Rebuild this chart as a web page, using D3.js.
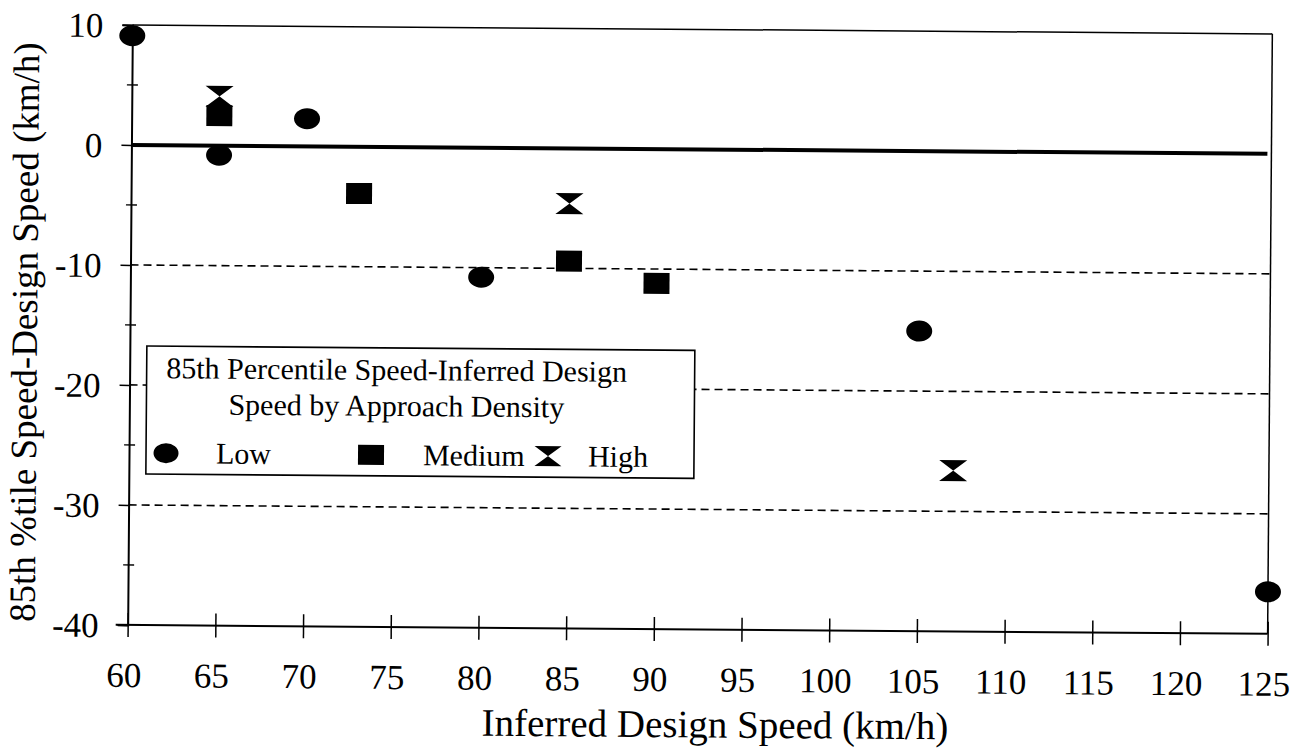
<!DOCTYPE html>
<html>
<head>
<meta charset="utf-8">
<script src="https://cdn.jsdelivr.net/npm/d3@7/dist/d3.min.js"></script>
<style>
html,body{margin:0;padding:0;background:#fff;}
svg{display:block;}
</style>
</head>
<body>
<svg id="chart" width="1304" height="749"></svg>
<script>
// ---- data ----
const xTicks = [60,65,70,75,80,85,90,95,100,105,110,115,120,125];
const yTicks = [10,0,-10,-20,-30,-40];
const yMinorTicks = [5,-5,-15,-25,-35];
const gridValues = [-10,-20,-30];
const lowX = [60,65,70,80,105,125];
const lowY = [9.1,-0.8,2.3,-10.8,-15.0,-36.5];
const medX = [65,73,85,90];
const medY = [2.5,-3.9,-9.4,-11.2];
const highX = [65,85,107];
const highY = [4.1,-4.6,-26.6];
const xTitle = "Inferred Design Speed (km/h)";
const yTitle = "85th %tile Speed-Design Speed (km/h)";
const legendTitle = ["85th Percentile Speed-Inferred Design","Speed by Approach Density"];
const legendLabels = ["Low","Medium","High"];

const FONT = "'Liberation Serif', 'Times New Roman', Times, serif";

// ---- layout ----
const svg = d3.select("#chart");
const root = svg.append("g").attr("transform","rotate(0.45,650,330)")
  .attr("font-family",FONT);
const x = d3.scaleLinear().domain([60,125]).range([130,1270]);
const y = d3.scaleLinear().domain([10,-40]).range([29,629]);
const x0 = x(60), x1 = x(125), yTop = y(10), yBot = y(-40);

// dashed gridlines
root.append("g").selectAll("line").data(gridValues).join("line")
  .attr("x1",x0).attr("x2",x1).attr("y1",d=>y(d)).attr("y2",d=>y(d))
  .attr("stroke","#000").attr("stroke-width",1.6).attr("stroke-dasharray","8,5");

// zero line
root.append("line").attr("x1",x0).attr("x2",x1-4).attr("y1",y(0)).attr("y2",y(0))
  .attr("stroke","#000").attr("stroke-width",4);

// top & right border
root.append("line").attr("x1",x0).attr("x2",x1).attr("y1",yTop).attr("y2",yTop)
  .attr("stroke","#000").attr("stroke-width",1.5);
root.append("line").attr("x1",x1).attr("x2",x1).attr("y1",yTop).attr("y2",yBot)
  .attr("stroke","#000").attr("stroke-width",1.5);

// y axis
const yAxis = d3.axisLeft(y).tickValues(yTicks).tickSize(10).tickPadding(19).tickFormat(d=>String(d));
const gy = root.append("g").attr("transform",`translate(${x0},0)`).call(yAxis);
gy.attr("font-family",FONT);
gy.select(".domain").attr("stroke-width",2);
gy.selectAll(".tick line").attr("stroke-width",1.5);
gy.selectAll(".tick text").style("font-family",FONT).style("font-size","35px").attr("dy","0.34em");
// minor y ticks (crossing)
root.append("g").selectAll("line").data(yMinorTicks).join("line")
  .attr("x1",x0-5).attr("x2",x0+6).attr("y1",d=>y(d)).attr("y2",d=>y(d))
  .attr("stroke","#000").attr("stroke-width",1.4);

// x axis
const xAxis = d3.axisBottom(x).tickValues(xTicks).tickSize(12).tickPadding(28).tickFormat(d=>String(d));
const gx = root.append("g").attr("transform",`translate(0,${yBot})`).call(xAxis);
gx.attr("font-family",FONT);
gx.select(".domain").attr("stroke-width",2).attr("d",`M${x0-12},0H${x1}`);
gx.selectAll(".tick line").attr("y1",-12).attr("stroke-width",1.5);
gx.selectAll(".tick text").style("font-family",FONT).style("font-size","35px")
  .attr("y",62).attr("dy",0).attr("dx",-4);

// axis titles
root.append("text").attr("x",718).attr("y",737).attr("text-anchor","middle")
  .style("font-family",FONT).style("font-size","39px").text(xTitle);
root.append("text").attr("transform","translate(37,337) rotate(-90)").attr("text-anchor","middle")
  .style("font-family",FONT).style("font-size","37px").text(yTitle);

// markers
const hourglass = (cx,cy,w,h)=>`M${cx-w/2},${cy-h/2}H${cx+w/2}L${cx-w/2},${cy+h/2}H${cx+w/2}Z`;
root.append("g").selectAll("ellipse").data(lowX.map((v,i)=>[v,lowY[i]])).join("ellipse")
  .attr("cx",d=>x(d[0])).attr("cy",d=>y(d[1])).attr("rx",13).attr("ry",10.5).attr("fill","#000");
root.append("g").selectAll("rect").data(medX.map((v,i)=>[v,medY[i]])).join("rect")
  .attr("x",d=>x(d[0])-13).attr("y",d=>y(d[1])-10.5).attr("width",26).attr("height",21).attr("fill","#000");
root.append("g").selectAll("path").data(highX.map((v,i)=>[v,highY[i]])).join("path")
  .attr("d",d=>hourglass(x(d[0]),y(d[1]),28,21)).attr("fill","#000");

// legend
const lg = root.append("g");
lg.append("rect").attr("x",147).attr("y",350).attr("width",548).attr("height",128)
  .attr("fill","#fff").attr("stroke","#000").attr("stroke-width",1.6);
lg.selectAll("text.t").data(legendTitle).join("text").attr("class","t")
  .attr("x",397).attr("y",(d,i)=>382+i*36).attr("text-anchor","middle")
  .style("font-family",FONT).style("font-size","30px").text(d=>d);
const rowY = 457;
lg.append("ellipse").attr("cx",167).attr("cy",rowY).attr("rx",12.5).attr("ry",10).attr("fill","#000");
lg.append("rect").attr("x",359).attr("y",rowY-10).attr("width",26).attr("height",20).attr("fill","#000");
lg.append("path").attr("d",hourglass(549,rowY,27,20)).attr("fill","#000");
const labX = [217,424,589];
lg.selectAll("text.l").data(legendLabels).join("text").attr("class","l")
  .attr("x",(d,i)=>labX[i]).attr("y",rowY+10).style("font-family",FONT).style("font-size","30px").text(d=>d);
</script>
</body>
</html>
